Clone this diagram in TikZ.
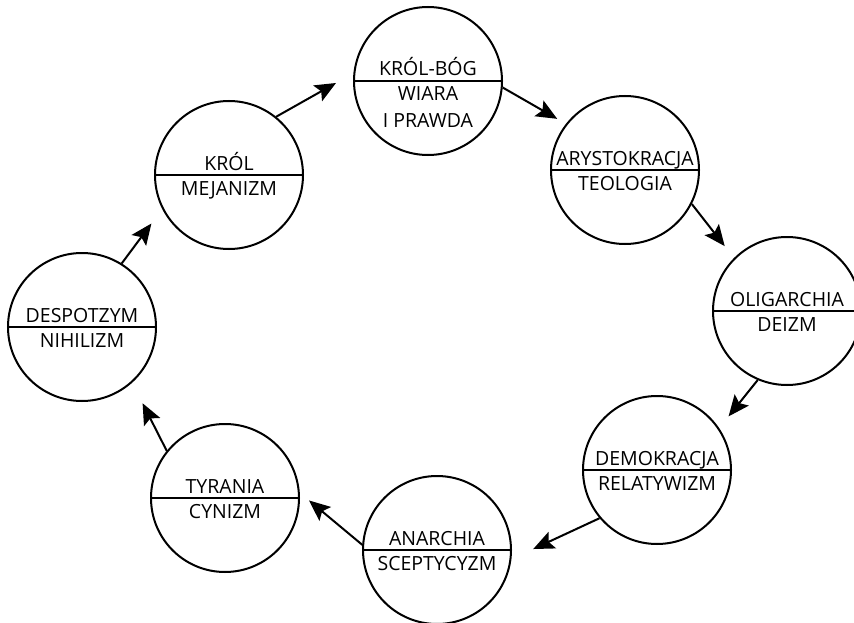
\documentclass[tikz,border=0pt]{standalone}
\usepackage{fontspec}
\setmainfont{Open Sans}
\usetikzlibrary{arrows.meta}

\begin{document}
\begin{tikzpicture}[
    x=1pt, y=-1pt,
    stage/.style={draw, circle, line width=2pt, minimum size=148pt, inner sep=0pt},
    word/.style={anchor=base, inner sep=0pt, font=\fontsize{19.5}{23}\selectfont},
    flow/.style={->, line width=2pt},
    >={Stealth[length=21pt, width=18pt, inset=4pt]} % Arrow style
]
\useasboundingbox (0,0) rectangle (854,623);

% Nodes
\node[stage] (KB) at (428,81) {};
\node[stage] (AR) at (625,170) {};
\node[stage] (OL) at (787,311) {};
\node[stage] (DE) at (657,470) {};
\node[stage] (AN) at (437,550) {};
\node[stage] (TY) at (225,498) {};
\node[stage] (DS) at (82,327) {};
\node[stage] (KR) at (229,175) {};

% Dividers
\draw[line width=2pt] (KB.west) -- (KB.east);
\draw[line width=2pt] (AR.west) -- (AR.east);
\draw[line width=2pt] (OL.west) -- (OL.east);
\draw[line width=2pt] (DE.west) -- (DE.east);
\draw[line width=2pt] (AN.west) -- (AN.east);
\draw[line width=2pt] (TY.west) -- (TY.east);
\draw[line width=2pt] (DS.west) -- (DS.east);
\draw[line width=2pt] (KR.west) -- (KR.east);

% Labels
\node[word] (KB-up) at ([yshift=5pt]KB.center) {KRÓL-BÓG};
\node[word] (KB-lo) at ([yshift=-20pt]KB.center) {WIARA};
\node[word] (KB-lo2) at ([yshift=-47pt]KB.center) {I PRAWDA};
\node[word] (AR-up) at ([yshift=5pt]AR.center) {ARYSTOKRACJA};
\node[word] (AR-lo) at ([yshift=-20pt]AR.center) {TEOLOGIA};
\node[word] (OL-up) at ([yshift=5pt]OL.center) {OLIGARCHIA};
\node[word] (OL-lo) at ([yshift=-20pt]OL.center) {DEIZM};
\node[word] (DE-up) at ([yshift=5pt]DE.center) {DEMOKRACJA};
\node[word] (DE-lo) at ([yshift=-20pt]DE.center) {RELATYWIZM};
\node[word] (AN-up) at ([yshift=5pt]AN.center) {ANARCHIA};
\node[word] (AN-lo) at ([yshift=-20pt]AN.center) {SCEPTYCYZM};
\node[word] (TY-up) at ([yshift=5pt]TY.center) {TYRANIA};
\node[word] (TY-lo) at ([yshift=-20pt]TY.center) {CYNIZM};
\node[word] (DS-up) at ([yshift=5pt]DS.center) {DESPOTZYM};
\node[word] (DS-lo) at ([yshift=-20pt]DS.center) {NIHILIZM};
\node[word] (KR-up) at ([yshift=5pt]KR.center) {KRÓL};
\node[word] (KR-lo) at ([yshift=-20pt]KR.center) {MEJANIZM};

% Arrows
\draw[flow, shorten >=20pt] (KR.51) -- (KB.174);
\draw[flow, shorten >=10pt] (KB.355) -- (AR.142);
\draw[flow, shorten >=15pt] (AR.333) -- (OL.135);
\draw[flow, shorten >=15pt] (OL.247) -- (DE.34);
\draw[flow, shorten >=24pt] (DE.220) -- (AN.353);
\draw[flow, shorten >=12pt] (AN.176) -- (TY.4);
\draw[flow, shorten >=23pt] (TY.141) -- (DS.312);
\draw[flow, shorten >=18pt] (DS.58) -- (KR.207);

\end{tikzpicture}
\end{document}
